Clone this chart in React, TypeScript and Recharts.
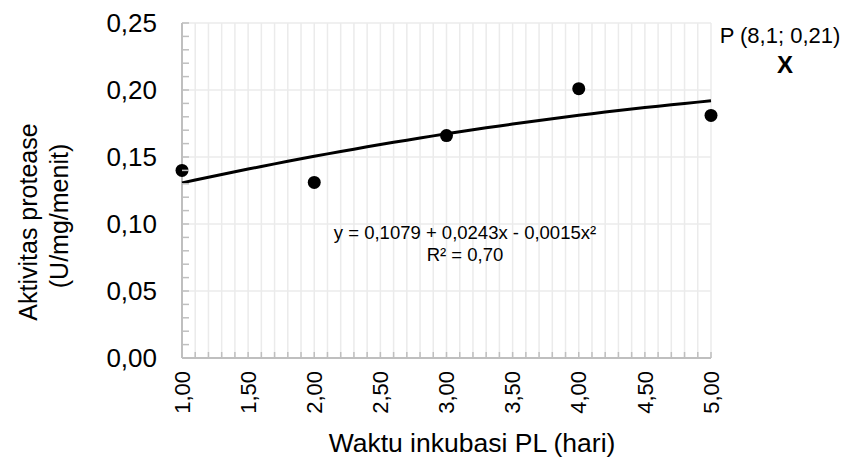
import {
  ComposedChart,
  Scatter,
  Line,
  XAxis,
  YAxis,
  CartesianGrid,
} from 'recharts';

// incubation day and measured protease activity
const days = [1, 2, 3, 4, 5];
const activity = [0.14, 0.131, 0.166, 0.201, 0.181];

// polynomial trendline y = c0 + c1 x + c2 x^2
const trendCoef = [0.1079, 0.0243, -0.0015];
const trendLabel = 'y = 0,1079 + 0,0243x - 0,0015x²';
const r2Label = 'R² = 0,70';

const xTicks = [1, 1.5, 2, 2.5, 3, 3.5, 4, 4.5, 5];
const yTicks = [0, 0.05, 0.1, 0.15, 0.2, 0.25];
const xMinorTicks = Array.from({ length: 41 }, (_, i) => +(1 + i * 0.1).toFixed(1));
const yMinorTicks = Array.from({ length: 26 }, (_, i) => +(i * 0.01).toFixed(2));

const points = days.map((d, i) => ({ x: d, y: activity[i] }));
const trend = xMinorTicks.map((x) => ({
  x,
  y: trendCoef[0] + trendCoef[1] * x + trendCoef[2] * x * x,
}));

const FONT = '"Liberation Sans", Arial, sans-serif';
const AXIS = '#bfbfbf';
const GRID = '#ebebeb';

const fmt = (v: number) => v.toFixed(2).replace('.', ',');
const isMajor = (list: number[], v: number) => list.some((t) => Math.abs(t - v) < 1e-6);

const X_MARGIN = 13;
const Y_MARGIN = 25;

// minor tick every 0.1 pointing up, rotated label on the half days
const XTick = (props: any) => {
  const { x, y, payload } = props;
  const axisY = y - X_MARGIN;
  return (
    <g>
      <line x1={x} y1={axisY} x2={x} y2={axisY - 6} stroke={AXIS} strokeWidth={1.5} />
      {isMajor(xTicks, payload.value) && (
        <text
          transform={`translate(${x},${y}) rotate(-90)`}
          textAnchor="end"
          dy="0.35em"
          fontSize={22}
          fontFamily={FONT}
          fill="#000"
        >
          {fmt(payload.value)}
        </text>
      )}
    </g>
  );
};

// minor tick every 0.01 pointing right, label every 0.05
const YTick = (props: any) => {
  const { x, y, payload } = props;
  const axisX = x + Y_MARGIN;
  return (
    <g>
      <line x1={axisX} y1={y} x2={axisX + 7} y2={y} stroke={AXIS} strokeWidth={1.5} />
      {isMajor(yTicks, payload.value) && (
        <text
          x={x}
          y={y}
          textAnchor="end"
          dy="0.355em"
          fontSize={26}
          fontFamily={FONT}
          fill="#000"
        >
          {fmt(payload.value)}
        </text>
      )}
    </g>
  );
};

const Dot = (props: any) => <circle cx={props.cx} cy={props.cy} r={6.5} fill="#000" />;

export default function App() {
  return (
    <div style={{ position: 'absolute', left: 0, top: 0, background: '#fff' }}>
      <ComposedChart
        width={843}
        height={459}
        margin={{ top: 23, right: 132, bottom: 41, left: 102 }}
        style={{ fontFamily: FONT }}
      >
        <CartesianGrid
          stroke={GRID}
          strokeWidth={1.5}
          verticalValues={xMinorTicks}
          horizontalValues={yTicks}
        />
        {/* axis lines kept in the grid layer so the markers sit on top */}
        <CartesianGrid
          stroke={AXIS}
          strokeWidth={2}
          verticalValues={[1]}
          horizontalValues={[0]}
        />
        <XAxis
          type="number"
          dataKey="x"
          domain={[1, 5]}
          ticks={xMinorTicks}
          height={60}
          tickLine={false}
          tickSize={0}
          tickMargin={X_MARGIN}
          axisLine={false}
          tick={<XTick />}
          interval={0}
        />
        <YAxis
          type="number"
          domain={[0, 0.25]}
          ticks={yMinorTicks}
          width={80}
          tickLine={false}
          tickSize={0}
          tickMargin={Y_MARGIN}
          axisLine={false}
          tick={<YTick />}
          interval={0}
        />
        <Line
          data={trend}
          dataKey="y"
          type="linear"
          stroke="#000"
          strokeWidth={3}
          dot={false}
          activeDot={false}
          isAnimationActive={false}
          zIndex={900}
        />
        <Scatter
          data={points}
          dataKey="y"
          shape={<Dot />}
          isAnimationActive={false}
          zIndex={1000}
        />
        <text x={465} y={239} textAnchor="middle" fontSize={18.5} fontFamily={FONT} fill="#000">
          {trendLabel}
        </text>
        <text x={465} y={261} textAnchor="middle" fontSize={18.5} fontFamily={FONT} fill="#000">
          {r2Label}
        </text>
        <text x={780} y={43} textAnchor="middle" fontSize={22} fontFamily={FONT} fill="#000">
          P (8,1; 0,21)
        </text>
        <text x={785} y={73} textAnchor="middle" fontSize={24} fontWeight="bold" fontFamily={FONT} fill="#000">
          X
        </text>
        <text
          transform="translate(28,222) rotate(-90)"
          textAnchor="middle"
          dy="0.35em"
          fontSize={25}
          fontFamily={FONT}
          fill="#000"
        >
          Aktivitas protease
        </text>
        <text
          transform="translate(59,216) rotate(-90)"
          textAnchor="middle"
          dy="0.35em"
          fontSize={25}
          fontFamily={FONT}
          fill="#000"
        >
          (U/mg/menit)
        </text>
        <text x={472} y={452} textAnchor="middle" fontSize={26.5} fontFamily={FONT} fill="#000">
          Waktu inkubasi PL (hari)
        </text>
      </ComposedChart>
    </div>
  );
}
